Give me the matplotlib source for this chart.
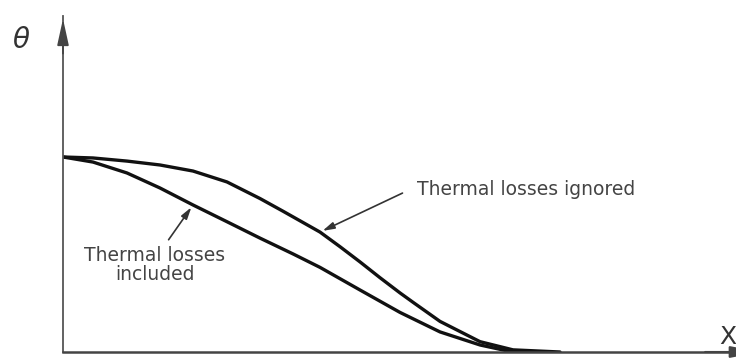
# Temperature profile sketch: theta vs x, with and without thermal losses
import matplotlib.pyplot as plt

# curve values (x in arbitrary units, theta normalised)
x_ignored = [0, 3.0, 6.4, 9.7, 13.0, 16.4, 19.7, 22.0, 25.7, 27.7, 29.7, 31.7,
             33.7, 35.0, 37.7, 41.7, 45.0, 49.7]
theta_ignored = [1.0, 0.995, 0.979, 0.959, 0.928, 0.872, 0.787, 0.722, 0.615,
                 0.540, 0.462, 0.381, 0.303, 0.255, 0.157, 0.053, 0.011, 0.0]

x_included = [0, 3.0, 6.4, 9.7, 13.0, 16.4, 19.7, 23.0, 25.7, 29.7, 33.7,
              37.7, 41.7, 44.4, 47.7]
theta_included = [1.0, 0.974, 0.918, 0.841, 0.754, 0.668, 0.584, 0.503, 0.434,
                  0.318, 0.203, 0.103, 0.036, 0.006, 0.0]

label_ignored = 'Thermal losses ignored'
label_included = 'Thermal losses\nincluded'

fig = plt.figure(figsize=(7.36, 3.6), dpi=100)
ax = fig.add_axes([63 / 736, 8 / 360, 1 - 63 / 736, 336 / 360])
ax.set_xlim(0, 67.3)
ax.set_ylim(0, 1.723)

for xs, ys in [(x_ignored, theta_ignored), (x_included, theta_included)]:
    ax.plot(xs, ys, color='#111111', lw=2.4, solid_capstyle='round',
            solid_joinstyle='round')

# axes as plain lines with arrow heads
for s in ['top', 'right']:
    ax.spines[s].set_visible(False)
ax.spines['left'].set_color('#555555')
ax.spines['left'].set_linewidth(1.3)
ax.spines['bottom'].set_color('#444444')
ax.spines['bottom'].set_linewidth(1.8)
ax.set_xticks([])
ax.set_yticks([])
ax.annotate('', xy=(0, 1.0), xytext=(0, 0.88), xycoords='axes fraction',
            arrowprops=dict(arrowstyle='-|>,head_length=1.6,head_width=0.35',
                            color='#444444', lw=1.3), annotation_clip=False)
ax.annotate('', xy=(1.04, 0), xytext=(0.95, 0), xycoords='axes fraction',
            arrowprops=dict(arrowstyle='-|>,head_length=1.8,head_width=0.35',
                            color='#444444', lw=1.5), annotation_clip=False)

fig.text(21 / 736, 1 - 40 / 360, r'$\theta$', fontsize=20, color='#333333',
         ha='center', va='center')
fig.text(719 / 736, 1 - 337 / 360, 'X', fontsize=18, color='#333333',
         ha='left', va='center')

# annotations
ax.annotate('', xy=(25.7, 0.615), xytext=(34.2, 0.821),
            arrowprops=dict(arrowstyle='-|>,head_length=0.7,head_width=0.2',
                            color='#333333', lw=1.2))
ax.text(35.4, 0.831, label_ignored, fontsize=13.5, color='#444444',
        ha='left', va='center', family='DejaVu Sans')

ax.annotate('', xy=(13.0, 0.754), xytext=(10.4, 0.564),
            arrowprops=dict(arrowstyle='-|>,head_length=0.7,head_width=0.2',
                            color='#333333', lw=1.2))
ax.text(9.2, 0.446, label_included, fontsize=13.5, color='#444444',
        ha='center', va='center', family='DejaVu Sans', linespacing=1.05)

fig.savefig('out.png', dpi=100, facecolor='white')
